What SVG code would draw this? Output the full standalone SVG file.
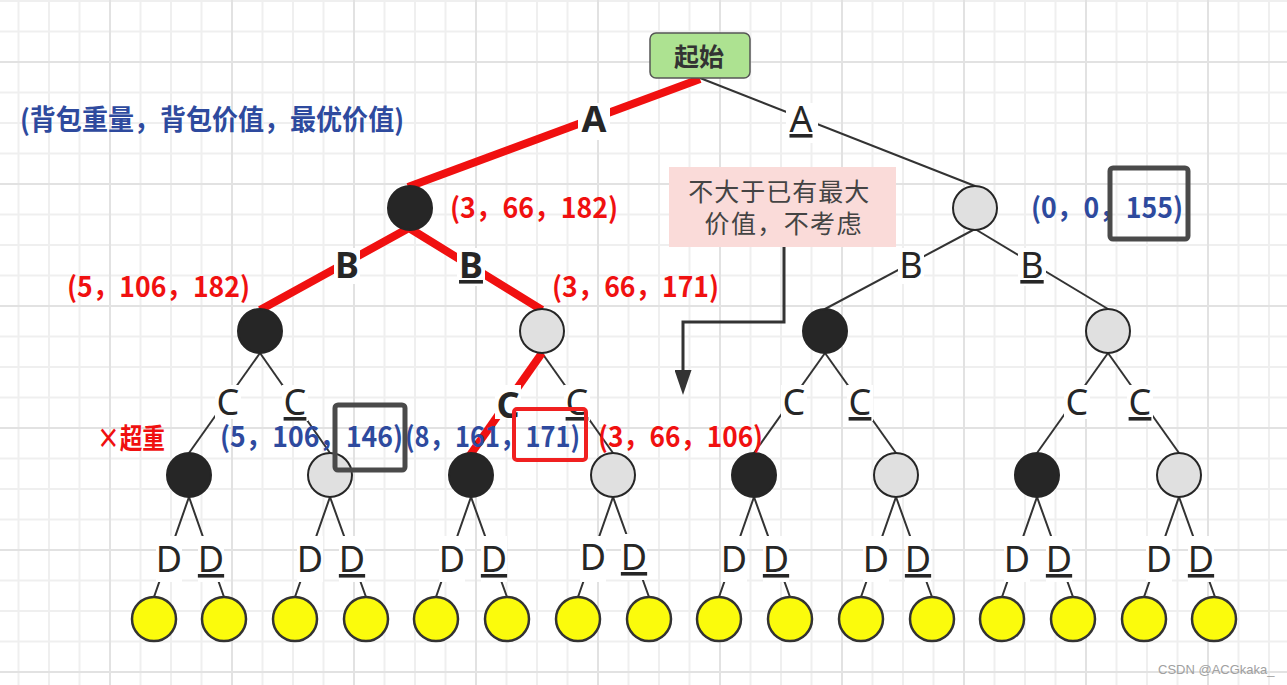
<svg xmlns="http://www.w3.org/2000/svg" width="1287" height="685" viewBox="0 0 1287 685">
<defs>
<pattern id="grid" patternUnits="userSpaceOnUse" x="109" y="61" width="122" height="122">
<rect x="0" y="0" width="122" height="122" fill="#ffffff"/>
<rect x="30.5" y="0" width="2" height="122" fill="#efefef"/>
<rect x="61" y="0" width="2" height="122" fill="#efefef"/>
<rect x="91.5" y="0" width="2" height="122" fill="#efefef"/>
<rect x="0" y="30.5" width="122" height="2" fill="#efefef"/>
<rect x="0" y="61" width="122" height="2" fill="#efefef"/>
<rect x="0" y="91.5" width="122" height="2" fill="#efefef"/>
<rect x="0" y="0" width="2" height="122" fill="#e2e2e2"/>
<rect x="0" y="0" width="122" height="2" fill="#e2e2e2"/>
</pattern>
<marker id="arrow" markerUnits="userSpaceOnUse" markerWidth="25" markerHeight="17" refX="0" refY="8.5" orient="auto" viewBox="0 0 25 17">
<path d="M0,0 L25,8.5 L0,17 Z" fill="#333333"/>
</marker>
<style>
.thin{stroke:#333;stroke-width:2;fill:none}
.red{stroke:#f01010;stroke-width:8;fill:none}
.lbg{fill:#ffffff}
.lt{font-family:"Noto Sans","Liberation Sans",sans-serif;font-size:36px;fill:#262626;text-anchor:middle}
.b{font-weight:bold}
.u{text-decoration:underline}
.blk{fill:#262626;stroke:#262626;stroke-width:2}
.gry{fill:#e0e0e0;stroke:#262626;stroke-width:2}
.yel{fill:#fbfb0c;stroke:#333333;stroke-width:2.5}
.data{font-family:"Noto Sans CJK SC","Noto Sans",sans-serif;font-size:28px;font-weight:bold}
.rd{fill:#f01010}
.bl{fill:#2e4a9e}
</style>
</defs>
<rect x="0" y="0" width="1287" height="685" fill="url(#grid)"/>

<g id="connectors">
<line class="thin" x1="700" y1="78" x2="975" y2="186" stroke="#222"/>
<line class="thin" x1="975" y1="229" x2="825" y2="309"/>
<line class="thin" x1="975" y1="229" x2="1108" y2="309"/>
<line class="thin" x1="260" y1="353" x2="189" y2="453"/>
<line class="thin" x1="260" y1="353" x2="330" y2="453"/>
<line class="thin" x1="542" y1="353" x2="613" y2="453"/>
<line class="thin" x1="825" y1="353" x2="754" y2="453"/>
<line class="thin" x1="825" y1="353" x2="896" y2="453"/>
<line class="thin" x1="1108" y1="353" x2="1037" y2="453"/>
<line class="thin" x1="1108" y1="353" x2="1179" y2="453"/>
<g class="thin" stroke="#444">
<path d="M154,597 L189,497 L224,597"/>
<path d="M295,597 L330,497 L366,597"/>
<path d="M436,597 L471,497 L507,597"/>
<path d="M578,597 L613,497 L649,597"/>
<path d="M719,597 L754,497 L790,597"/>
<path d="M861,597 L896,497 L932,597"/>
<path d="M1002,597 L1037,497 L1073,597"/>
<path d="M1144,597 L1179,497 L1215,597"/>
</g>
<line class="red" x1="700" y1="79" x2="408" y2="187"/>
<polyline class="red" points="260,310 409,228 542,310"/>
<line class="red" x1="542" y1="353" x2="468" y2="458"/>
<path d="M784,247 V322 H683 V370" fill="none" stroke="#333" stroke-width="3" marker-end="url(#arrow)"/>

<g id="edge-labels">
<rect class="lbg" x="578" y="103" width="32" height="37"/>
<text class="lt b" x="594" y="132">A</text>
<rect class="lbg" x="786" y="103" width="32" height="40"/>
<text class="lt u" x="801" y="132">A</text>
<rect class="lbg" x="334" y="248" width="26" height="36"/>
<text class="lt b" x="347" y="278">B</text>
<rect class="lbg" x="457" y="248" width="28" height="38"/>
<text class="lt b u" x="471" y="278">B</text>
<rect class="lbg" x="898" y="248" width="26" height="36"/>
<text class="lt" x="911" y="278">B</text>
<rect class="lbg" x="1018" y="248" width="28" height="38"/>
<text class="lt u" x="1032" y="278">B</text>

<rect class="lbg" x="215" y="385" width="26" height="34"/>
<text class="lt" x="228" y="415">C</text>
<rect class="lbg" x="282" y="385" width="26" height="36"/>
<text class="lt u" x="295" y="415">C</text>
<rect class="lbg" x="495" y="385" width="26" height="34"/>
<text class="lt b" x="508" y="418" fill="#000">C</text>
<rect class="lbg" x="564" y="385" width="26" height="36"/>
<text class="lt u" x="577" y="415">C</text>
<rect class="lbg" x="781" y="385" width="26" height="34"/>
<text class="lt" x="794" y="415">C</text>
<rect class="lbg" x="847" y="385" width="26" height="36"/>
<text class="lt u" x="860" y="415">C</text>
<rect class="lbg" x="1064" y="385" width="26" height="34"/>
<text class="lt" x="1077" y="415">C</text>
<rect class="lbg" x="1127" y="385" width="26" height="36"/>
<text class="lt u" x="1140" y="415">C</text>

<rect class="lbg" x="156" y="536" width="26" height="46"/>
<text class="lt" x="169" y="572">D</text>
<rect class="lbg" x="198" y="536" width="26" height="46"/>
<text class="lt u" x="211" y="572">D</text>
<rect class="lbg" x="297" y="536" width="26" height="46"/>
<text class="lt" x="310" y="572">D</text>
<rect class="lbg" x="339" y="536" width="26" height="46"/>
<text class="lt u" x="352" y="572">D</text>
<rect class="lbg" x="439" y="536" width="26" height="46"/>
<text class="lt" x="452" y="572">D</text>
<rect class="lbg" x="481" y="536" width="26" height="46"/>
<text class="lt u" x="494" y="572">D</text>
<rect class="lbg" x="580" y="536" width="26" height="46"/>
<text class="lt" x="593" y="570">D</text>
<rect class="lbg" x="621" y="534" width="26" height="46"/>
<text class="lt u" x="634" y="570">D</text>
<rect class="lbg" x="721" y="536" width="26" height="46"/>
<text class="lt" x="734" y="572">D</text>
<rect class="lbg" x="763" y="536" width="26" height="46"/>
<text class="lt u" x="776" y="572">D</text>
<rect class="lbg" x="863" y="536" width="26" height="46"/>
<text class="lt" x="876" y="572" fill="#000">D</text>
<rect class="lbg" x="905" y="536" width="26" height="46"/>
<text class="lt u" x="918" y="572">D</text>
<rect class="lbg" x="1004" y="536" width="26" height="46"/>
<text class="lt" x="1017" y="572">D</text>
<rect class="lbg" x="1046" y="536" width="26" height="46"/>
<text class="lt u" x="1059" y="572">D</text>
<rect class="lbg" x="1146" y="536" width="26" height="46"/>
<text class="lt" x="1159" y="572">D</text>
<rect class="lbg" x="1188" y="536" width="26" height="46"/>
<text class="lt u" x="1201" y="572">D</text>
</g>
</g>

<g id="start">
<rect x="650" y="33" width="100" height="45" rx="6" fill="#ade291" stroke="#555" stroke-width="1.5"/>
<text x="699" y="66" font-family="'Noto Sans CJK SC',sans-serif" font-size="25" font-weight="bold" fill="#333" text-anchor="middle">起始</text>
</g>

<g id="n1L"><circle class="blk" cx="410" cy="208" r="22"/></g>
<g id="n1R"><circle class="gry" cx="975" cy="208" r="22"/></g>
<g id="n2a"><circle class="blk" cx="260" cy="331" r="22"/></g>
<g id="n2b"><circle class="gry" cx="542" cy="331" r="22"/></g>
<g id="n2c"><circle class="blk" cx="825" cy="331" r="22"/></g>
<g id="n2d"><circle class="gry" cx="1108" cy="331" r="22"/></g>
<g id="n3a"><circle class="blk" cx="189" cy="475" r="22"/></g>
<g id="n3b"><circle class="gry" cx="330" cy="475" r="22"/></g>
<g id="n3c"><circle class="blk" cx="471" cy="475" r="22"/></g>
<g id="n3d"><circle class="gry" cx="613" cy="475" r="22"/></g>
<g id="n3e"><circle class="blk" cx="754" cy="475" r="22"/></g>
<g id="n3f"><circle class="gry" cx="896" cy="475" r="22"/></g>
<g id="n3g"><circle class="blk" cx="1037" cy="475" r="22"/></g>
<g id="n3h"><circle class="gry" cx="1179" cy="475" r="22"/></g>
<g id="leaves">
<g id="l1"><circle class="yel" cx="154" cy="619" r="22"/></g>
<g id="l2"><circle class="yel" cx="224" cy="619" r="22"/></g>
<g id="l3"><circle class="yel" cx="295" cy="619" r="22"/></g>
<g id="l4"><circle class="yel" cx="366" cy="619" r="22"/></g>
<g id="l5"><circle class="yel" cx="436" cy="619" r="22"/></g>
<g id="l6"><circle class="yel" cx="507" cy="619" r="22"/></g>
<g id="l7"><circle class="yel" cx="578" cy="619" r="22"/></g>
<g id="l8"><circle class="yel" cx="649" cy="619" r="22"/></g>
<g id="l9"><circle class="yel" cx="719" cy="619" r="22"/></g>
<g id="l10"><circle class="yel" cx="790" cy="619" r="22"/></g>
<g id="l11"><circle class="yel" cx="861" cy="619" r="22"/></g>
<g id="l12"><circle class="yel" cx="932" cy="619" r="22"/></g>
<g id="l13"><circle class="yel" cx="1002" cy="619" r="22"/></g>
<g id="l14"><circle class="yel" cx="1073" cy="619" r="22"/></g>
<g id="l15"><circle class="yel" cx="1144" cy="619" r="22"/></g>
<g id="l16"><circle class="yel" cx="1214" cy="619" r="22"/></g>
</g>

<g id="note">
<rect x="669" y="167" width="227" height="80" fill="#fadbd9"/>
<text font-family="'Noto Sans CJK SC',sans-serif" font-size="25" fill="#444" text-anchor="middle">
<tspan x="782" y="201" textLength="181">不大于已有最大</tspan>
<tspan x="783" y="233" textLength="157">价值，不考虑</tspan>
</text>
</g>

<g id="annotations">
<text class="data bl" x="20" y="130" textLength="384" lengthAdjust="spacingAndGlyphs">(背包重量，背包价值，最优价值)</text>
<text class="data rd" x="450" y="218" textLength="168" lengthAdjust="spacingAndGlyphs">(3，66，182)</text>
<text class="data bl" x="1031" y="218" textLength="152" lengthAdjust="spacingAndGlyphs">(0，0，155)</text>
<text class="data rd" x="67" y="297" textLength="183" lengthAdjust="spacingAndGlyphs">(5，106，182)</text>
<text class="data rd" x="552" y="297" textLength="167" lengthAdjust="spacingAndGlyphs">(3，66，171)</text>
<text class="data rd" x="97" y="449" textLength="68" lengthAdjust="spacingAndGlyphs">×超重</text>
<text class="data bl" x="220" y="447" textLength="183" lengthAdjust="spacingAndGlyphs">(5，106，146)</text>
<text class="data bl" x="405" y="447" textLength="175" lengthAdjust="spacingAndGlyphs">(8，161，171)</text>
<text class="data rd" x="598" y="447" textLength="165" lengthAdjust="spacingAndGlyphs">(3，66，106)</text>
<rect x="1110" y="168" width="78" height="71" rx="3" fill="none" stroke="#4a4a4a" stroke-width="5"/>
<rect x="335" y="405" width="70" height="65" rx="3" fill="none" stroke="#4a4a4a" stroke-width="5"/>
<rect x="514" y="409" width="72" height="51" rx="3" fill="none" stroke="#f02020" stroke-width="4"/>
<text x="1158" y="674" font-family="'Liberation Sans',sans-serif" font-size="13" fill="#a0a0a0">CSDN @ACGkaka_</text>
</g>
</svg>
